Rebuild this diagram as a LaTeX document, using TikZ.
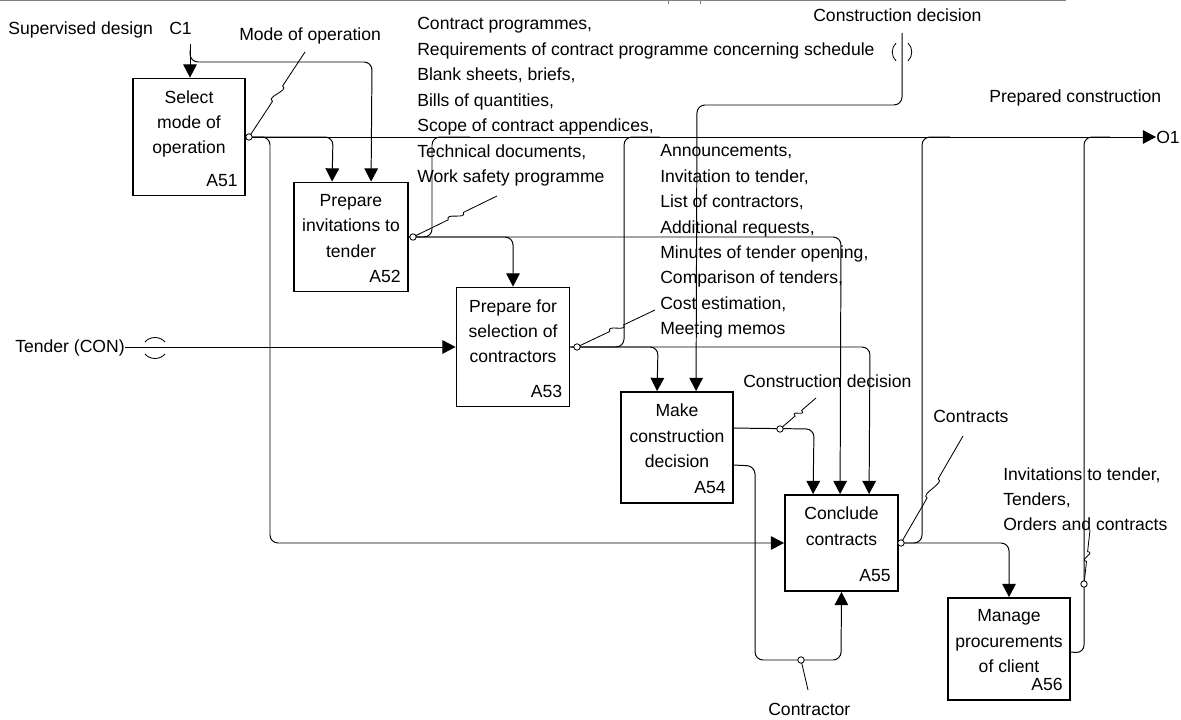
\documentclass[tikz,border=0pt]{standalone}
\usepackage{fontspec}
\setmainfont{Liberation Sans}
\usetikzlibrary{arrows.meta,calc,positioning}

\newcommand{\lblfont}{\fontsize{12.5}{18.1}\selectfont}
% leader line with a small wave in the middle
\newcommand{\squig}[2]{%
  \path (#1) -- (#2) coordinate[pos=0.42] (sqa) coordinate[pos=0.6] (sqb);
  \draw[lead] (#1) -- (sqa) .. controls ($(sqa)!6pt!90:(#2)$) and ($(sqb)!6pt!90:(#1)$) .. (sqb) -- (#2);}

\tikzset{
  fn/.style={draw, line width=1.3pt, inner sep=0pt},
  flow/.style={line width=0.7pt, rounded corners=0.2cm},
  arr/.style={flow, -{Triangle[length=0.33cm,width=0.34cm]}},
  lead/.style={line width=0.6pt},
  lbl/.style={inner sep=0pt, anchor=north west, align=left, font=\lblfont},
  boxtxt/.style={inner sep=0pt, anchor=north, align=center, font=\lblfont},
  boxnum/.style={inner sep=0pt, anchor=base east, font=\lblfont}
}

\begin{document}
\begin{tikzpicture}[x=0.025cm, y=-0.025cm]
\useasboundingbox (0,0) rectangle (1181,720);

% frame edge
\draw[gray, line width=0.8pt] (0,0.6) -- (1066,0.6);
\foreach \t in {668,700} \draw[gray, line width=0.6pt] (\t,0) -- (\t,4);

% activities
\node[fn, minimum width=2.8cm, minimum height=2.925cm] (a51) at (189,137) {};
\node[fn, minimum width=2.85cm, minimum height=2.725cm] (a52) at (351,237) {};
\node[fn, minimum width=2.825cm, minimum height=2.975cm] (a53) at (513,347) {};
\node[fn, minimum width=2.8cm, minimum height=2.775cm] (a54) at (677,447.5) {};
\node[fn, minimum width=2.825cm, minimum height=2.4cm] (a55) at (841.5,543) {};
\node[fn, minimum width=3.05cm, minimum height=2.55cm] (a56) at (1009,649) {};

\node[boxtxt] (t51) at ($(a51.north)+(0,12.5)$) {Select\\mode of\\operation};
\node[boxtxt] (t52) at ($(a52.north)+(0,12.5)$) {Prepare\\invitations to\\tender};
\node[boxtxt] (t53) at ($(a53.north)+(0,12.5)$) {Prepare for\\selection of\\contractors};
\node[boxtxt] (t54) at ($(a54.north)+(0,12.5)$) {Make\\construction\\decision};
\node[boxtxt] (t55) at ($(a55.north)+(0,12.5)$) {Conclude\\contracts};
\node[boxtxt] (t56) at ($(a56.north)+(0,12.5)$) {Manage\\procurements\\of client};

\node[boxnum] (n51) at ($(a51.south east)+(-8,-10)$) {A51};
\node[boxnum] (n52) at ($(a52.south east)+(-8,-10)$) {A52};
\node[boxnum] (n53) at ($(a53.south east)+(-8,-10)$) {A53};
\node[boxnum] (n54) at ($(a54.south east)+(-8,-10)$) {A54};
\node[boxnum] (n55) at ($(a55.south east)+(-8,-10)$) {A55};
\node[boxnum] (n56) at ($(a56.south east)+(-8,-10)$) {A56};

% labels
\node[lbl, anchor=base west] (supdes) at (8,35) {Supervised design};
\node[lbl, anchor=base west] (c1) at (169,35) {C1};
\node[lbl, anchor=base west] (modeop) at (239,41) {Mode of operation};
\node[lbl] (docs) at (417,17.3) {Contract programmes,\\
  Requirements of contract programme concerning schedule\\
  Blank sheets, briefs,\\Bills of quantities,\\Scope of contract appendices,\\
  Technical documents,\\Work safety programme};
\node[lbl, anchor=base west] (cdtop) at (813,22) {Construction decision};
\node[lbl, anchor=base west] (prepcon) at (989,103) {Prepared construction};
\node[lbl, anchor=west] (o1) at (1156,137) {O1};
\node[lbl] (announce) at (660,144.3) {Announcements,\\Invitation to tender,\\List of contractors,\\
  Additional requests,\\Minutes of tender opening,\\Comparison of tenders,\\
  Cost estimation,\\Meeting memos};
\node[lbl, anchor=base west] (cd54) at (743,388) {Construction decision};
\node[lbl, anchor=base west] (contracts) at (933,423) {Contracts};
\node[lbl] (invit) at (1003,467) {Invitations to tender,\\Tenders,\\Orders and contracts};
\node[lbl, anchor=base west] (contractor) at (768,715) {Contractor};
\node[lbl, anchor=base east] (tender) at (125,353) {Tender (CON)};

% control C1
\coordinate (c1in) at (190,44);
\draw[arr] (c1in) -- (c1in |- a51.north);
\draw[arr] (190,50) -- (190,62) -- (372,62) -- ($(a52.north west)+(78,0)$);

% outputs of A51
\draw[arr] (a51.east) -- (o1.west);
\draw[arr] (a51.east) -- (333,137) -- ($(a52.north west)+(39,0)$);
\draw[arr] (a51.east) -- (270,137) -- (270,543) -- (a55.west);

% outputs of A52
\draw[arr] (a52.east) -- (513,237) -- (a53.north);
\draw[arr] (a52.east) -- (841,237) -- ($(a55.north west)+(56,0)$);
\draw[flow] (a52.east) -- (432,237) -- (432,137) -- (470,137);

% outputs of A53
\draw[arr] (a53.east) -- (658,347) -- ($(a54.north west)+(37,0)$);
\draw[arr] (a53.east) -- (870,347) -- ($(a55.north west)+(85,0)$);
\draw[flow] (a53.east) -- (624,347) -- (624,137) -- (660,137);

% construction decision from outside
\coordinate (cdin) at (902,33);
\draw[arr] (cdin) -- (902,105) -- (697,105) -- ($(a54.north west)+(76,0)$);
\draw[lead] (896,43) .. controls (891,48) and (891,56) .. (896,61);
\draw[lead] (908,43) .. controls (913,48) and (913,56) .. (908,61);

% outputs of A54
\draw[arr] ($(a54.north east)+(0,37)$) -- (814,429) -- ($(a55.north west)+(29,0)$);
\draw[arr] ($(a54.north east)+(0,74)$) -- (755,466) -- (755,660) -- (841,660) -- (a55.south);

% outputs of A55
\draw[arr] (a55.east) -- (1009,543) -- (a56.north);
\draw[flow] (a55.east) -- (922,543) -- (922,137) -- (950,137);

% output of A56
\draw[flow] ($(a56.north east)+(0,55)$) -- (1084,653) -- (1084,137) -- (1110,137);

% input tender
\draw[arr] (tender.east |- a53.west) -- (a53.west);
\draw[lead] (145,342) .. controls (150,336) and (160,336) .. (165,342);
\draw[lead] (145,354) .. controls (150,360) and (160,360) .. (165,354);

% leaders
\squig{249,137}{305,52}
\squig{413,237}{497,196}
\squig{577,347}{655,310}
\squig{780,429}{816,398}
\draw[lead] (801,660) -- (808,690);
\squig{901,543}{963,436}
\squig{1084,584}{1090,530}

\foreach \x/\y in {249/137, 413/237, 577/347, 780/429, 801/660, 901/543, 1084/584}
  \draw[lead, fill=white] (\x,\y) circle[radius=0.08cm];
\end{tikzpicture}
\end{document}
